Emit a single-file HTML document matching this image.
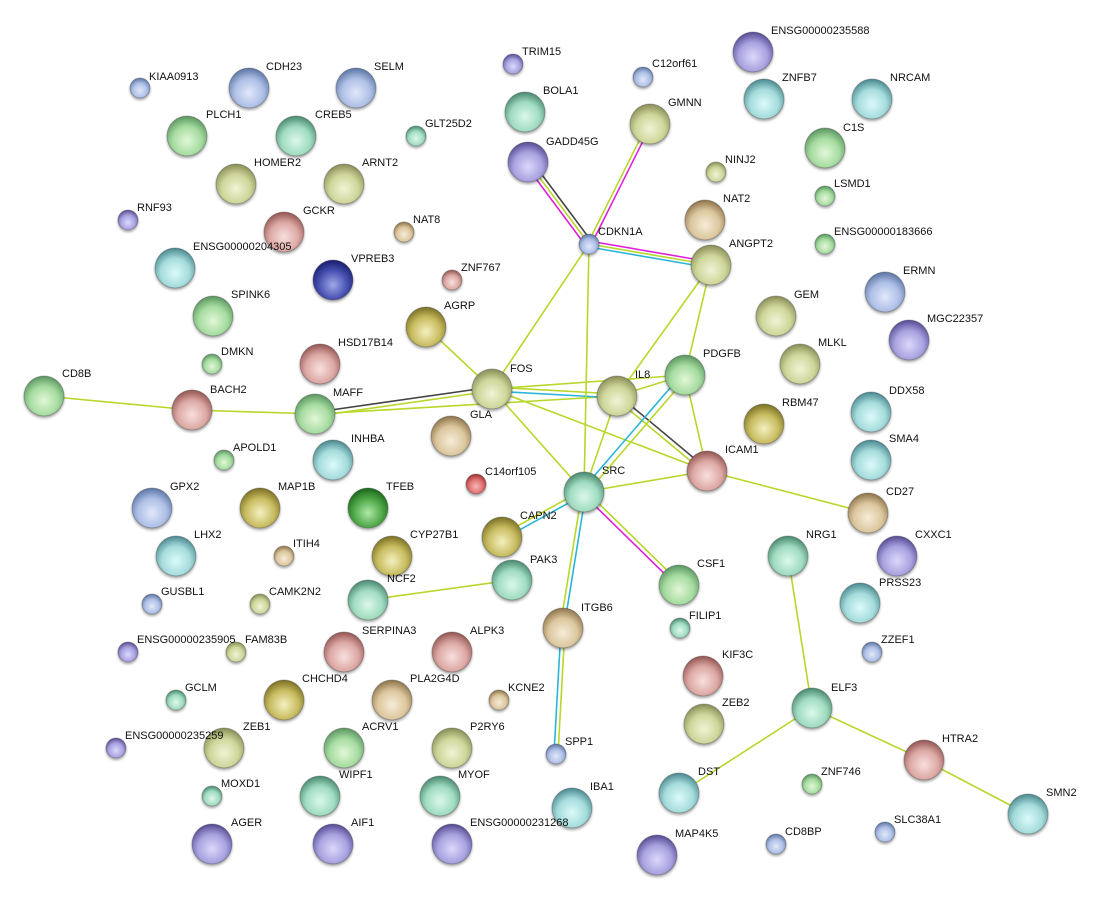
<!DOCTYPE html>
<html><head><meta charset="utf-8"><style>
html,body{margin:0;padding:0;background:#fff;}
svg{display:block;}
text{font-family:"Liberation Sans",sans-serif;font-size:11px;fill:#111;}
</style></head><body>
<svg width="1098" height="901" viewBox="0 0 1098 901" xmlns="http://www.w3.org/2000/svg">
<defs>
<filter id="sd" x="-30%" y="-30%" width="160%" height="170%"><feDropShadow dx="0" dy="2" stdDeviation="1.2" flood-color="#000" flood-opacity="0.35"/></filter>
<radialGradient id="g" cx="50%" cy="62%" r="60%"><stop offset="0" stop-color="#e2f7d8"/><stop offset="0.6" stop-color="#a6dca0"/><stop offset="1" stop-color="#5f9a64"/></radialGradient>
<radialGradient id="o" cx="50%" cy="62%" r="60%"><stop offset="0" stop-color="#f1f3d6"/><stop offset="0.6" stop-color="#cfd69a"/><stop offset="1" stop-color="#8c925a"/></radialGradient>
<radialGradient id="b" cx="50%" cy="62%" r="60%"><stop offset="0" stop-color="#e0e8fa"/><stop offset="0.6" stop-color="#aebfe6"/><stop offset="1" stop-color="#607aa8"/></radialGradient>
<radialGradient id="p" cx="50%" cy="62%" r="60%"><stop offset="0" stop-color="#dcd8fa"/><stop offset="0.6" stop-color="#a8a2e0"/><stop offset="1" stop-color="#5a5098"/></radialGradient>
<radialGradient id="c" cx="50%" cy="62%" r="60%"><stop offset="0" stop-color="#dcfafa"/><stop offset="0.6" stop-color="#a6dcdc"/><stop offset="1" stop-color="#4f8e94"/></radialGradient>
<radialGradient id="t" cx="50%" cy="62%" r="60%"><stop offset="0" stop-color="#dcf8ea"/><stop offset="0.6" stop-color="#a0dcc0"/><stop offset="1" stop-color="#4e8e74"/></radialGradient>
<radialGradient id="n" cx="50%" cy="62%" r="60%"><stop offset="0" stop-color="#f6ecd8"/><stop offset="0.6" stop-color="#dcc79e"/><stop offset="1" stop-color="#93784e"/></radialGradient>
<radialGradient id="k" cx="50%" cy="62%" r="60%"><stop offset="0" stop-color="#f8e0de"/><stop offset="0.6" stop-color="#dca8a4"/><stop offset="1" stop-color="#985a56"/></radialGradient>
<radialGradient id="r" cx="50%" cy="62%" r="60%"><stop offset="0" stop-color="#f8b8b8"/><stop offset="0.6" stop-color="#e07070"/><stop offset="1" stop-color="#a03434"/></radialGradient>
<radialGradient id="d" cx="50%" cy="62%" r="60%"><stop offset="0" stop-color="#a0a8e8"/><stop offset="0.6" stop-color="#4650b0"/><stop offset="1" stop-color="#1a2070"/></radialGradient>
<radialGradient id="e" cx="50%" cy="62%" r="60%"><stop offset="0" stop-color="#b0e8a8"/><stop offset="0.6" stop-color="#4ea848"/><stop offset="1" stop-color="#1e6a1e"/></radialGradient>
<radialGradient id="y" cx="50%" cy="62%" r="60%"><stop offset="0" stop-color="#f4f0c0"/><stop offset="0.6" stop-color="#c8bc60"/><stop offset="1" stop-color="#807428"/></radialGradient>
</defs>

<!-- edges -->
<g fill="none" stroke-width="1.6">
<line x1="44" y1="396" x2="192" y2="410" stroke="#b7d72a"/>
<line x1="192" y1="410" x2="317" y2="414" stroke="#b7d72a"/>
<line x1="317" y1="412" x2="492" y2="387" stroke="#444"/>
<line x1="317" y1="416" x2="492" y2="391" stroke="#b7d72a"/>
<line x1="317" y1="414" x2="617" y2="396" stroke="#b7d72a"/>
<line x1="426" y1="327" x2="492" y2="389" stroke="#b7d72a"/>
<line x1="492" y1="389" x2="589" y2="244" stroke="#b7d72a"/>
<line x1="492" y1="387" x2="617" y2="394" stroke="#b7d72a"/>
<line x1="492" y1="391" x2="617" y2="398" stroke="#2bb5d8"/>
<line x1="492" y1="389" x2="685" y2="375" stroke="#b7d72a"/>
<line x1="492" y1="389" x2="584" y2="492" stroke="#b7d72a"/>
<line x1="492" y1="389" x2="707" y2="471" stroke="#b7d72a"/>
<line x1="617" y1="394" x2="707" y2="469" stroke="#444"/>
<line x1="615" y1="398" x2="705" y2="473" stroke="#b7d72a"/>
<line x1="617" y1="396" x2="584" y2="492" stroke="#b7d72a"/>
<line x1="617" y1="396" x2="711" y2="265" stroke="#b7d72a"/>
<line x1="617" y1="396" x2="685" y2="375" stroke="#b7d72a"/>
<line x1="685" y1="375" x2="711" y2="265" stroke="#b7d72a"/>
<line x1="683" y1="373" x2="582" y2="490" stroke="#2bb5d8"/>
<line x1="687" y1="377" x2="586" y2="494" stroke="#b7d72a"/>
<line x1="685" y1="375" x2="707" y2="471" stroke="#b7d72a"/>
<line x1="525" y1="164" x2="586" y2="246" stroke="#e020d8"/>
<line x1="528" y1="162" x2="589" y2="244" stroke="#b7d72a"/>
<line x1="531" y1="160" x2="592" y2="242" stroke="#444"/>
<line x1="588" y1="243" x2="648" y2="123" stroke="#b7d72a"/>
<line x1="591" y1="245" x2="651" y2="125" stroke="#e020d8"/>
<line x1="589" y1="241" x2="711" y2="262" stroke="#e020d8"/>
<line x1="589" y1="244" x2="711" y2="265" stroke="#b7d72a"/>
<line x1="589" y1="247" x2="711" y2="268" stroke="#2bb5d8"/>
<line x1="589" y1="244" x2="584" y2="492" stroke="#b7d72a"/>
<line x1="584" y1="492" x2="707" y2="471" stroke="#b7d72a"/>
<line x1="583" y1="490" x2="501" y2="535" stroke="#b7d72a"/>
<line x1="585" y1="494" x2="503" y2="539" stroke="#2bb5d8"/>
<line x1="583" y1="494" x2="678" y2="587" stroke="#e020d8"/>
<line x1="585" y1="490" x2="680" y2="583" stroke="#b7d72a"/>
<line x1="582" y1="492" x2="560" y2="628" stroke="#b7d72a"/>
<line x1="586" y1="492" x2="564" y2="628" stroke="#2bb5d8"/>
<line x1="561" y1="628" x2="554" y2="754" stroke="#2bb5d8"/>
<line x1="565" y1="628" x2="558" y2="754" stroke="#b7d72a"/>
<line x1="368" y1="600" x2="512" y2="580" stroke="#b7d72a"/>
<line x1="707" y1="471" x2="868" y2="513" stroke="#b7d72a"/>
<line x1="788" y1="556" x2="812" y2="708" stroke="#b7d72a"/>
<line x1="812" y1="708" x2="680" y2="793" stroke="#b7d72a"/>
<line x1="812" y1="708" x2="924" y2="760" stroke="#b7d72a"/>
<line x1="924" y1="760" x2="1029" y2="815" stroke="#b7d72a"/>
</g>

<!-- nodes -->
<g stroke="rgba(60,60,60,0.35)" stroke-width="1" filter="url(#sd)">
<circle cx="249" cy="88" r="20" fill="url(#b)"/>
<circle cx="356" cy="88" r="20" fill="url(#b)"/>
<circle cx="753" cy="52" r="20" fill="url(#p)"/>
<circle cx="764" cy="99" r="20" fill="url(#c)"/>
<circle cx="872" cy="99" r="20" fill="url(#c)"/>
<circle cx="187" cy="136" r="20" fill="url(#g)"/>
<circle cx="296" cy="136" r="20" fill="url(#t)"/>
<circle cx="525" cy="112" r="20" fill="url(#t)"/>
<circle cx="650" cy="124" r="20" fill="url(#o)"/>
<circle cx="825" cy="148" r="20" fill="url(#g)"/>
<circle cx="528" cy="162" r="20" fill="url(#p)"/>
<circle cx="236" cy="184" r="20" fill="url(#o)"/>
<circle cx="344" cy="184" r="20" fill="url(#o)"/>
<circle cx="284" cy="232" r="20" fill="url(#k)"/>
<circle cx="705" cy="220" r="20" fill="url(#n)"/>
<circle cx="175" cy="268" r="20" fill="url(#c)"/>
<circle cx="333" cy="280" r="20" fill="url(#d)"/>
<circle cx="711" cy="265" r="20" fill="url(#o)"/>
<circle cx="885" cy="292" r="20" fill="url(#b)"/>
<circle cx="213" cy="316" r="20" fill="url(#g)"/>
<circle cx="426" cy="327" r="20" fill="url(#y)"/>
<circle cx="776" cy="316" r="20" fill="url(#o)"/>
<circle cx="909" cy="340" r="20" fill="url(#p)"/>
<circle cx="320" cy="364" r="20" fill="url(#k)"/>
<circle cx="44" cy="396" r="20" fill="url(#g)"/>
<circle cx="492" cy="389" r="20" fill="url(#o)"/>
<circle cx="617" cy="396" r="20" fill="url(#o)"/>
<circle cx="685" cy="375" r="20" fill="url(#g)"/>
<circle cx="800" cy="364" r="20" fill="url(#o)"/>
<circle cx="192" cy="410" r="20" fill="url(#k)"/>
<circle cx="315" cy="414" r="20" fill="url(#g)"/>
<circle cx="451" cy="436" r="20" fill="url(#n)"/>
<circle cx="871" cy="412" r="20" fill="url(#c)"/>
<circle cx="764" cy="424" r="20" fill="url(#y)"/>
<circle cx="333" cy="460" r="20" fill="url(#c)"/>
<circle cx="707" cy="471" r="20" fill="url(#k)"/>
<circle cx="871" cy="460" r="20" fill="url(#c)"/>
<circle cx="584" cy="492" r="20" fill="url(#t)"/>
<circle cx="152" cy="508" r="20" fill="url(#b)"/>
<circle cx="260" cy="508" r="20" fill="url(#y)"/>
<circle cx="368" cy="508" r="20" fill="url(#e)"/>
<circle cx="868" cy="513" r="20" fill="url(#n)"/>
<circle cx="502" cy="537" r="20" fill="url(#y)"/>
<circle cx="788" cy="556" r="20" fill="url(#t)"/>
<circle cx="897" cy="556" r="20" fill="url(#p)"/>
<circle cx="176" cy="556" r="20" fill="url(#c)"/>
<circle cx="392" cy="556" r="20" fill="url(#y)"/>
<circle cx="512" cy="580" r="20" fill="url(#t)"/>
<circle cx="679" cy="585" r="20" fill="url(#g)"/>
<circle cx="860" cy="603" r="20" fill="url(#c)"/>
<circle cx="368" cy="600" r="20" fill="url(#t)"/>
<circle cx="563" cy="628" r="20" fill="url(#n)"/>
<circle cx="344" cy="652" r="20" fill="url(#k)"/>
<circle cx="452" cy="652" r="20" fill="url(#k)"/>
<circle cx="703" cy="676" r="20" fill="url(#k)"/>
<circle cx="284" cy="700" r="20" fill="url(#y)"/>
<circle cx="392" cy="700" r="20" fill="url(#n)"/>
<circle cx="812" cy="708" r="20" fill="url(#t)"/>
<circle cx="704" cy="724" r="20" fill="url(#o)"/>
<circle cx="224" cy="748" r="20" fill="url(#o)"/>
<circle cx="344" cy="748" r="20" fill="url(#g)"/>
<circle cx="452" cy="748" r="20" fill="url(#o)"/>
<circle cx="924" cy="760" r="20" fill="url(#k)"/>
<circle cx="320" cy="796" r="20" fill="url(#t)"/>
<circle cx="440" cy="796" r="20" fill="url(#t)"/>
<circle cx="572" cy="808" r="20" fill="url(#c)"/>
<circle cx="679" cy="793" r="20" fill="url(#c)"/>
<circle cx="1028" cy="814" r="20" fill="url(#c)"/>
<circle cx="212" cy="844" r="20" fill="url(#p)"/>
<circle cx="333" cy="844" r="20" fill="url(#p)"/>
<circle cx="452" cy="844" r="20" fill="url(#p)"/>
<circle cx="657" cy="855" r="20" fill="url(#p)"/>
<circle cx="140" cy="88" r="10" fill="url(#b)"/>
<circle cx="513" cy="64" r="10" fill="url(#p)"/>
<circle cx="643" cy="77" r="10" fill="url(#b)"/>
<circle cx="416" cy="136" r="10" fill="url(#t)"/>
<circle cx="716" cy="172" r="10" fill="url(#o)"/>
<circle cx="825" cy="196" r="10" fill="url(#g)"/>
<circle cx="128" cy="220" r="10" fill="url(#p)"/>
<circle cx="404" cy="232" r="10" fill="url(#n)"/>
<circle cx="589" cy="244" r="10" fill="url(#b)"/>
<circle cx="825" cy="244" r="10" fill="url(#g)"/>
<circle cx="452" cy="280" r="10" fill="url(#k)"/>
<circle cx="212" cy="364" r="10" fill="url(#g)"/>
<circle cx="224" cy="460" r="10" fill="url(#g)"/>
<circle cx="476" cy="484" r="10" fill="url(#r)"/>
<circle cx="284" cy="556" r="10" fill="url(#n)"/>
<circle cx="152" cy="604" r="10" fill="url(#b)"/>
<circle cx="260" cy="604" r="10" fill="url(#o)"/>
<circle cx="680" cy="628" r="10" fill="url(#t)"/>
<circle cx="872" cy="652" r="10" fill="url(#b)"/>
<circle cx="128" cy="652" r="10" fill="url(#p)"/>
<circle cx="236" cy="652" r="10" fill="url(#o)"/>
<circle cx="176" cy="700" r="10" fill="url(#t)"/>
<circle cx="499" cy="700" r="10" fill="url(#n)"/>
<circle cx="116" cy="748" r="10" fill="url(#p)"/>
<circle cx="556" cy="754" r="10" fill="url(#b)"/>
<circle cx="212" cy="796" r="10" fill="url(#t)"/>
<circle cx="812" cy="784" r="10" fill="url(#g)"/>
<circle cx="885" cy="832" r="10" fill="url(#b)"/>
<circle cx="776" cy="844" r="10" fill="url(#b)"/>
</g>

<!-- labels -->
<g>
<text x="149" y="80">KIAA0913</text>
<text x="266" y="70">CDH23</text>
<text x="374" y="70">SELM</text>
<text x="522" y="55">TRIM15</text>
<text x="652" y="67">C12orf61</text>
<text x="771" y="34">ENSG00000235588</text>
<text x="782" y="81">ZNFB7</text>
<text x="890" y="81">NRCAM</text>
<text x="206" y="118">PLCH1</text>
<text x="315" y="118">CREB5</text>
<text x="425" y="127">GLT25D2</text>
<text x="543" y="94">BOLA1</text>
<text x="668" y="106">GMNN</text>
<text x="843" y="131">C1S</text>
<text x="546" y="145">GADD45G</text>
<text x="254" y="166">HOMER2</text>
<text x="362" y="166">ARNT2</text>
<text x="725" y="163">NINJ2</text>
<text x="834" y="187">LSMD1</text>
<text x="137" y="211">RNF93</text>
<text x="303" y="214">GCKR</text>
<text x="413" y="223">NAT8</text>
<text x="723" y="202">NAT2</text>
<text x="598" y="235">CDKN1A</text>
<text x="834" y="235">ENSG00000183666</text>
<text x="193" y="250">ENSG00000204305</text>
<text x="351" y="262">VPREB3</text>
<text x="729" y="247">ANGPT2</text>
<text x="461" y="271">ZNF767</text>
<text x="903" y="274">ERMN</text>
<text x="231" y="298">SPINK6</text>
<text x="444" y="309">AGRP</text>
<text x="794" y="298">GEM</text>
<text x="927" y="322">MGC22357</text>
<text x="221" y="355">DMKN</text>
<text x="338" y="346">HSD17B14</text>
<text x="62" y="377">CD8B</text>
<text x="510" y="372">FOS</text>
<text x="635" y="378">IL8</text>
<text x="703" y="357">PDGFB</text>
<text x="818" y="346">MLKL</text>
<text x="210" y="393">BACH2</text>
<text x="333" y="396">MAFF</text>
<text x="470" y="418">GLA</text>
<text x="889" y="394">DDX58</text>
<text x="782" y="406">RBM47</text>
<text x="351" y="442">INHBA</text>
<text x="725" y="453">ICAM1</text>
<text x="889" y="442">SMA4</text>
<text x="233" y="451">APOLD1</text>
<text x="485" y="475">C14orf105</text>
<text x="602" y="474">SRC</text>
<text x="170" y="490">GPX2</text>
<text x="278" y="490">MAP1B</text>
<text x="386" y="490">TFEB</text>
<text x="886" y="495">CD27</text>
<text x="520" y="519">CAPN2</text>
<text x="806" y="538">NRG1</text>
<text x="915" y="538">CXXC1</text>
<text x="194" y="538">LHX2</text>
<text x="293" y="547">ITIH4</text>
<text x="410" y="538">CYP27B1</text>
<text x="530" y="563">PAK3</text>
<text x="697" y="567">CSF1</text>
<text x="879" y="586">PRSS23</text>
<text x="161" y="595">GUSBL1</text>
<text x="269" y="595">CAMK2N2</text>
<text x="387" y="582">NCF2</text>
<text x="689" y="619">FILIP1</text>
<text x="581" y="611">ITGB6</text>
<text x="881" y="643">ZZEF1</text>
<text x="137" y="643">ENSG00000235905</text>
<text x="245" y="643">FAM83B</text>
<text x="362" y="634">SERPINA3</text>
<text x="470" y="634">ALPK3</text>
<text x="722" y="658">KIF3C</text>
<text x="185" y="691">GCLM</text>
<text x="302" y="682">CHCHD4</text>
<text x="410" y="682">PLA2G4D</text>
<text x="508" y="691">KCNE2</text>
<text x="831" y="691">ELF3</text>
<text x="722" y="706">ZEB2</text>
<text x="125" y="739">ENSG00000235259</text>
<text x="243" y="730">ZEB1</text>
<text x="362" y="730">ACRV1</text>
<text x="470" y="730">P2RY6</text>
<text x="565" y="745">SPP1</text>
<text x="942" y="742">HTRA2</text>
<text x="221" y="787">MOXD1</text>
<text x="339" y="778">WIPF1</text>
<text x="458" y="778">MYOF</text>
<text x="590" y="790">IBA1</text>
<text x="698" y="775">DST</text>
<text x="821" y="775">ZNF746</text>
<text x="1046" y="796">SMN2</text>
<text x="231" y="826">AGER</text>
<text x="351" y="826">AIF1</text>
<text x="470" y="826">ENSG00000231268</text>
<text x="894" y="823">SLC38A1</text>
<text x="785" y="835">CD8BP</text>
<text x="675" y="837">MAP4K5</text>
</g>
</svg>
</body></html>
